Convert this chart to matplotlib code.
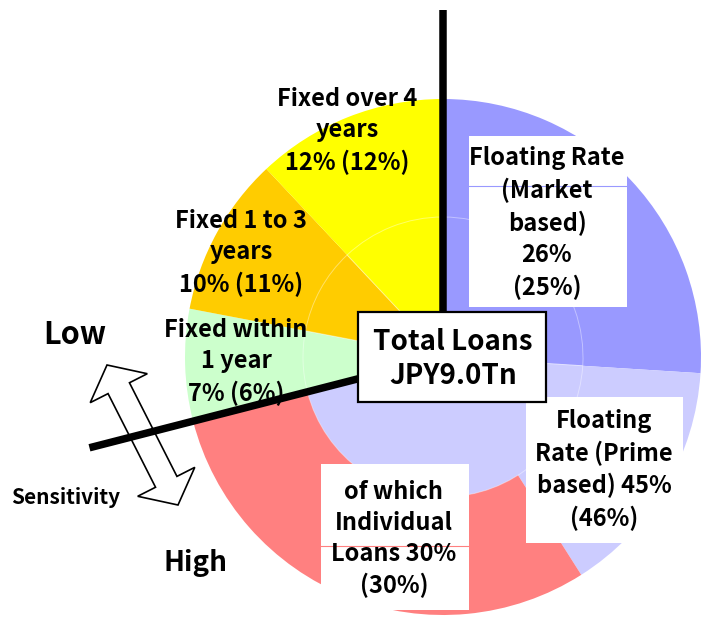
import numpy as np
import matplotlib
matplotlib.use('Agg')
import matplotlib.pyplot as plt
from matplotlib.patches import Rectangle, Polygon

# loan mix by rate type, % of total (previous period in brackets)
outer_labels = ['Floating Market', 'Floating Prime (other)', 'Individual Loans',
                'Fixed within 1 year', 'Fixed 1 to 3 years', 'Fixed over 4 years']
outer_values = [26, 15, 30, 7, 10, 12]
inner_labels = ['Floating Market', 'Floating Prime', 'Fixed within 1 year',
                'Fixed 1 to 3 years', 'Fixed over 4 years']
inner_values = [26, 45, 7, 10, 12]
floating_total = 26 + 45

outer_colors = ['#9999FF', '#CCCCFF', '#FF8080', '#CCFFCC', '#FFCC00', '#FFFF00']
inner_colors = ['#9999FF', '#CCCCFF', '#CCFFCC', '#FFCC00', '#FFFF00']

W, H = 702, 621
plt.rcParams['font.family'] = ['Noto Sans CJK JP', 'DejaVu Sans']
plt.rcParams['font.weight'] = 'bold'

fig = plt.figure(figsize=(W / 100, H / 100), dpi=100)
ax = fig.add_axes([0, 0, 1, 1])

cx, cy = 443, H - 357
R, r_in = 258, 140

ax.pie(outer_values, colors=outer_colors, startangle=90, counterclock=False,
       radius=R, center=(cx, cy), wedgeprops=dict(linewidth=0))
ax.pie(inner_values, colors=inner_colors, startangle=90, counterclock=False,
       radius=r_in, center=(cx, cy),
       wedgeprops=dict(edgecolor=(1, 1, 1, 0.4), linewidth=0.7))

# black separators: start of floating, and floating / fixed boundary
for ang, length in [(90, 347), (90 - 360 * floating_total / 100, 365)]:
    t = np.deg2rad(ang)
    ax.plot([cx, cx + length * np.cos(t)], [cy, cy + length * np.sin(t)],
            color='black', lw=5.4, solid_capstyle='butt', zorder=5)

# white label boxes
for x0, y0, x1, y1 in [(469, 136, 627, 307), (526, 397, 683, 543), (321, 464, 469, 610)]:
    ax.add_patch(Rectangle((x0, H - y1), x1 - x0, y1 - y0, fc='white', ec='none', zorder=6))
ax.plot([469, 627], [H - 186, H - 186], color='#9999FF', lw=0.8, zorder=7)
ax.plot([321, 469], [H - 546, H - 546], color='#FF8080', lw=0.8, zorder=7)
ax.add_patch(Rectangle((358, H - 402), 188, 90, fc='white', ec='black', lw=1.6, zorder=8))

fs = 17
ls = 1.37
def label(x, y, s, size=fs, z=9, spacing=ls):
    ax.text(x, H - y, s, ha='center', va='center', fontsize=size,
            fontweight='bold', linespacing=spacing, zorder=z)

label(547, 223, 'Floating Rate\n(Market\nbased)\n26%\n(25%)')
label(604, 470, 'Floating\nRate (Prime\nbased) 45%\n(46%)')
label(394, 539, 'of which\nIndividual\nLoans 30%\n(30%)')
label(453, 359, 'Total Loans\nJPY9.0Tn', size=20, spacing=1.3)
label(347, 131, 'Fixed over 4\nyears\n12% (12%)')
label(241, 253, 'Fixed 1 to 3\nyears\n10% (11%)')
label(236, 362, 'Fixed within\n1 year\n7% (6%)')
label(75, 335, 'Low', size=22)
label(196, 563, 'High', size=20)
label(66, 497, 'Sensitivity', size=15)

# double headed sensitivity arrow
tip1 = np.array([107, H - 365.0])
tip2 = np.array([178, H - 505.0])
u = (tip2 - tip1) / np.linalg.norm(tip2 - tip1)
p = np.array([-u[1], u[0]])
hl, hw, sw = 26, 32, 12
pts = [tip1,
       tip1 + hl * u + hw * p, tip1 + hl * u + sw * p,
       tip2 - hl * u + sw * p, tip2 - hl * u + hw * p,
       tip2,
       tip2 - hl * u - hw * p, tip2 - hl * u - sw * p,
       tip1 + hl * u - sw * p, tip1 + hl * u - hw * p]
ax.add_patch(Polygon(pts, closed=True, fc='white', ec='black', lw=1.2, zorder=4))

ax.set_xlim(0, W)
ax.set_ylim(0, H)
ax.set_aspect('equal')
ax.axis('off')
fig.savefig('out.png', dpi=100, facecolor='white')
